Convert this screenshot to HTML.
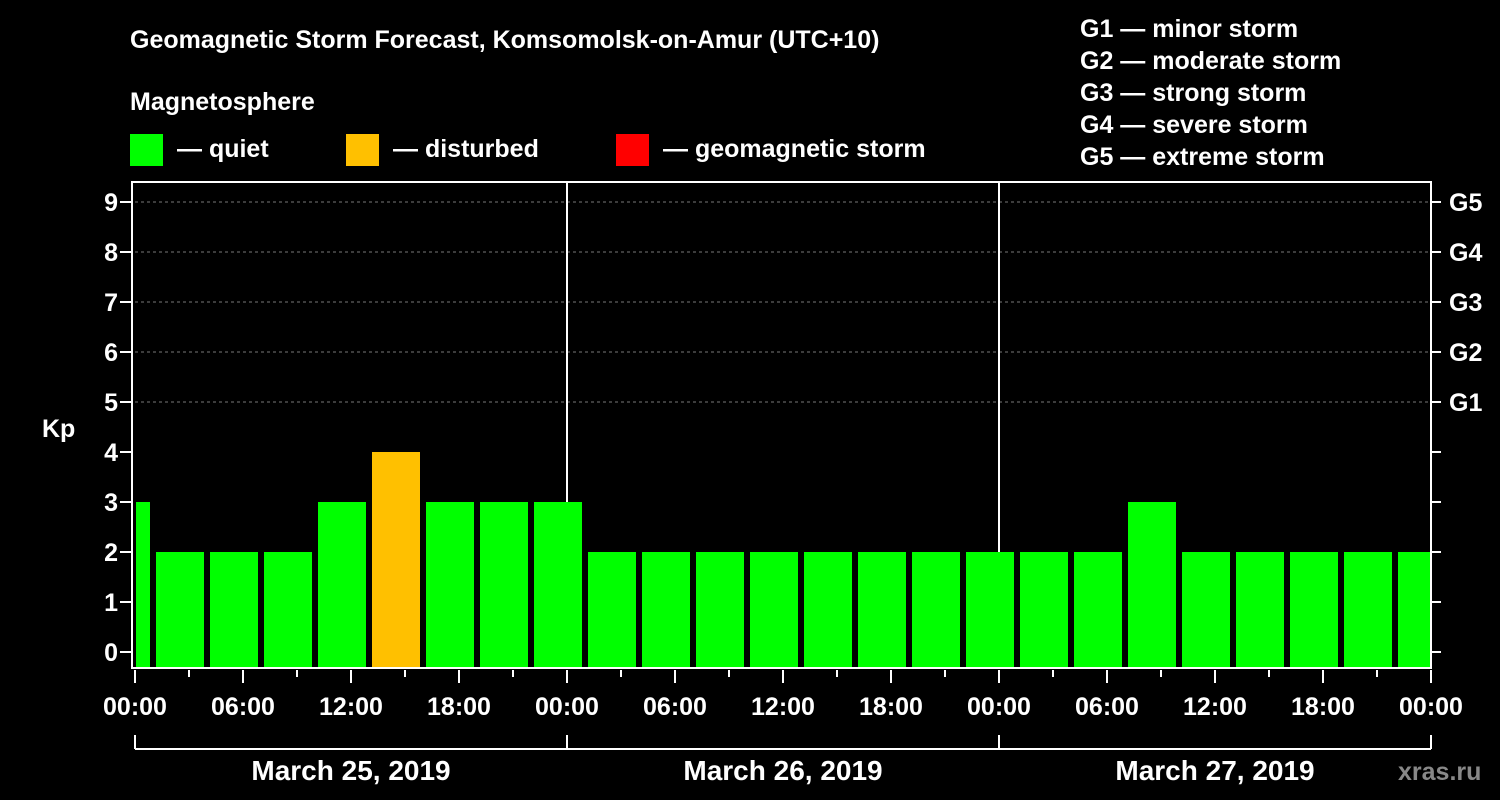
<!DOCTYPE html>
<html><head><meta charset="utf-8"><style>
body{margin:0;background:#000;}
svg{display:block;font-family:"Liberation Sans",sans-serif;font-weight:bold;}
</style></head><body>
<svg id="chart" width="1500" height="800">
<rect width="1500" height="800" fill="#000"/>
<text x="130" y="48" fill="#fff" font-size="25">Geomagnetic Storm Forecast, Komsomolsk-on-Amur (UTC+10)</text>
<text x="130" y="110" fill="#fff" font-size="25">Magnetosphere</text>
<g><rect x="130" y="134" width="33" height="32" fill="#00ff00"/><text x="177" y="157" fill="#fff" font-size="25">— quiet</text></g>
<g><rect x="346" y="134" width="33" height="32" fill="#ffc000"/><text x="393" y="157" fill="#fff" font-size="25">— disturbed</text></g>
<g><rect x="616" y="134" width="33" height="32" fill="#ff0000"/><text x="663" y="157" fill="#fff" font-size="25">— geomagnetic storm</text></g>
<g fill="#fff" font-size="25">
<text x="1080" y="37">G1 — minor storm</text><text x="1080" y="69">G2 — moderate storm</text><text x="1080" y="101">G3 — strong storm</text><text x="1080" y="133">G4 — severe storm</text><text x="1080" y="165">G5 — extreme storm</text>
</g>
<text x="42" y="437" fill="#fff" font-size="25">Kp</text>
<text x="1398" y="780" fill="#888" font-size="25">xras.ru</text>
<g id="grid"></g><g id="bars"></g><g id="axes"></g>
</svg>
<script>
const kpValues=[3,2,2,2,3,4,3,3,3,2,2,2,2,2,2,2,2,2,2,3,2,2,2,2,2];
const dayLabels=["March 25, 2019","March 26, 2019","March 27, 2019"];
const hourLabels=["00:00","06:00","12:00","18:00"];
const gLabels=["G1","G2","G3","G4","G5"];
const firstBarHour=-2;
const NS="http://www.w3.org/2000/svg";
const X0=135,PXH=18,Y0=652,PKP=50,BOTTOM=668,TOP=182,RIGHT=X0+72*PXH;
const xs=h=>X0+h*PXH, ys=v=>Y0-v*PKP;
function mk(t,a,p){const e=document.createElementNS(NS,t);for(const k in a)e.setAttribute(k,a[k]);p.appendChild(e);return e;}
const grid=document.getElementById('grid'),bars=document.getElementById('bars'),axes=document.getElementById('axes');
for(let v=5;v<=9;v++){const l=mk('line',{x1:X0,x2:RIGHT,y1:ys(v),y2:ys(v),stroke:'#777','stroke-dasharray':'3,3'},grid);

}
kpValues.forEach((v,i)=>{const h0=firstBarHour+i*3;let a=Math.max(xs(h0)+3,X0+1),b=Math.min(xs(h0+3)-3,RIGHT-1);
const r=mk('rect',{x:a,y:ys(v),width:b-a,height:BOTTOM-ys(v),fill:v>=5?'#ff0000':(v>=4?'#ffc000':'#00ff00')},bars);

});
for(let d=1;d<3;d++){const l=mk('line',{x1:xs(d*24),x2:xs(d*24),y1:TOP,y2:BOTTOM,stroke:'#fff','stroke-width':2},grid);

}
const frame=mk('rect',{x:X0-3,y:TOP,width:RIGHT-X0+3,height:BOTTOM-TOP,fill:'none',stroke:'#fff','stroke-width':2},axes);


for(let v=0;v<=9;v++){mk('line',{x1:X0-15,x2:X0-3,y1:ys(v),y2:ys(v),stroke:'#fff','stroke-width':2},axes);
mk('line',{x1:RIGHT,x2:RIGHT+10,y1:ys(v),y2:ys(v),stroke:'#fff','stroke-width':2},axes);
const t=mk('text',{x:X0-17,y:ys(v)+9,fill:'#fff','font-size':25,'text-anchor':'end'},axes);t.textContent=v;

}
gLabels.forEach((g,i)=>{const t=mk('text',{x:1449,y:ys(5+i)+9,fill:'#fff','font-size':25},axes);t.textContent=g;

});
for(let h=0;h<=72;h+=3){const major=h%6===0;mk('line',{x1:xs(h),x2:xs(h),y1:BOTTOM+2,y2:BOTTOM+(major?15:9),stroke:'#fff','stroke-width':2},axes);
if(major){const t=mk('text',{x:xs(h),y:715,fill:'#fff','font-size':25,'text-anchor':'middle'},axes);t.textContent=hourLabels[(h/6)%4];

}}
mk('line',{x1:X0,x2:RIGHT,y1:749,y2:749,stroke:'#fff','stroke-width':2},axes);
for(let d=0;d<=3;d++)mk('line',{x1:xs(d*24),x2:xs(d*24),y1:735,y2:749,stroke:'#fff','stroke-width':2},axes);
dayLabels.forEach((s,d)=>{const t=mk('text',{x:xs(d*24+12),y:780,fill:'#fff','font-size':28,'text-anchor':'middle'},axes);t.textContent=s;

});
</script>
</body></html>
